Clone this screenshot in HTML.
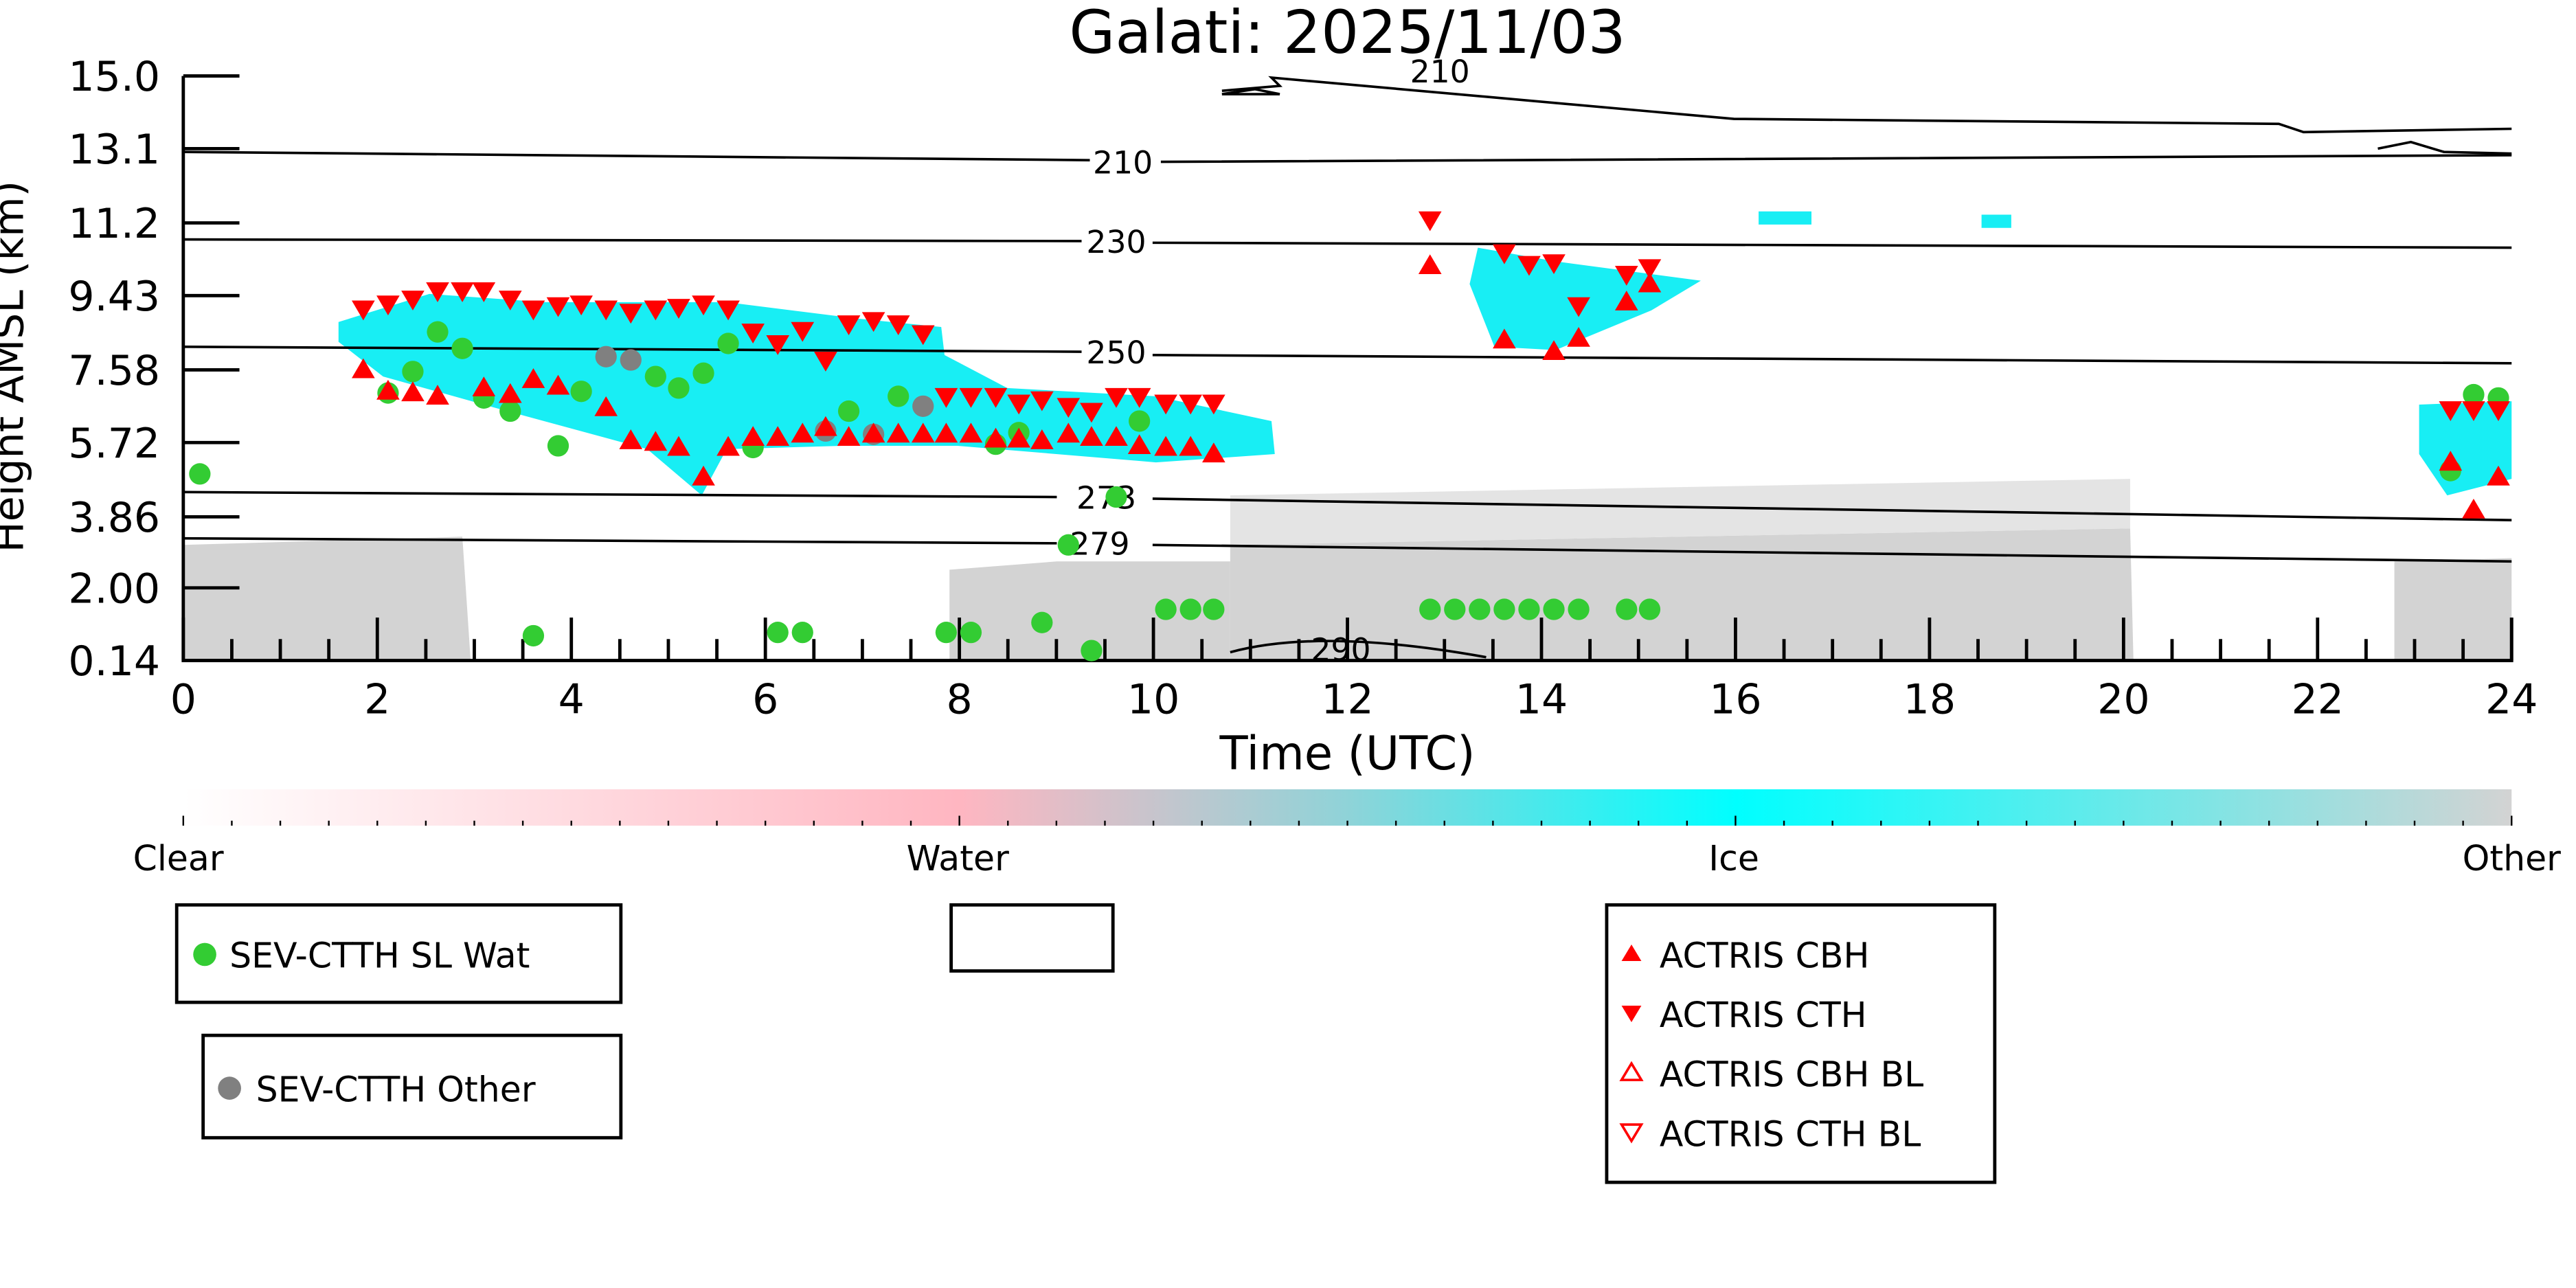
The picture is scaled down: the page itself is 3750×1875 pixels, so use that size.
<!DOCTYPE html>
<html><head><meta charset="utf-8"><style>
html,body{margin:0;padding:0;background:#fff}
svg{display:block}
text{font-family:"DejaVu Sans","Liberation Sans",sans-serif;fill:#000}
</style></head><body>
<svg id="s" width="3750" height="1875" viewBox="0 0 1560 780" xmlns="http://www.w3.org/2000/svg">
<defs>
<linearGradient id="cb" x1="0" x2="1" y1="0" y2="0">
<stop offset="0" stop-color="#ffffff"/>
<stop offset="0.333" stop-color="#ffb6c1"/>
<stop offset="0.5" stop-color="#8fd3d8"/>
<stop offset="0.667" stop-color="#00ffff"/>
<stop offset="1" stop-color="#d3d3d3"/>
</linearGradient>
</defs>
<text x="816" y="32" font-size="36" text-anchor="middle">Galati: 2025/11/03</text>
<!-- gray regions -->
<g fill="#d3d3d3">
<path d="M111,330 L280,325 L285,400 L111,400Z"/>
<path d="M575,345 L640,340 L745,340 L745,400 L575,400Z"/>
<path d="M745,330 L1290,320 L1292,400 L745,400Z"/>
<path d="M1450,340 L1521,338 L1521,400 L1450,400Z"/>
<path d="M745,300 L1290,290 L1290,320 L745,330Z" fill="#e4e4e4"/>
</g>
<!-- cyan -->
<g fill="#18eef4">
<path d="M205,195 L260,178 L330,183 L440,183 L520,193 L570,198 L572,215 L610,235 L700,240 L770,255 L772,275 L700,280 L580,270 L510,270 L440,272 L425,300 L392,272 L300,247 L232,228 L205,207Z"/>
<path d="M895,150 L940,158 L1030,170 L1000,188 L942,212 L905,210 L890,172Z"/>
<path d="M1465,245 L1521,243 L1521,290 L1482,300 L1465,275Z"/>
<path d="M1065,128 h32 v8 h-32Z"/><path d="M1200,130 h18 v8 h-18Z"/>
</g>
<!-- contours -->
<g fill="none" stroke="#000" stroke-width="1.5">
<path d="M111,92 L660,97 M703,98 L1521,94"/>
<path d="M111,145 L655,146 M698,147 L1521,150"/>
<path d="M111,210 L655,213 M698,215 L1521,220"/>
<path d="M111,298 L640,301 M698,302 L1521,315"/>
<path d="M111,326 L640,329 M698,330 L1521,340"/>
<path d="M740,55 L775,52 L770,47 L1050,72 L1380,75 L1395,80 L1521,78"/>
<path d="M740,57 L760,54 L775,57 L740,57"/>
<path d="M1440,90 L1460,86 L1480,92 L1521,93"/>
<path d="M745,395 Q800,380 900,398"/>
</g>
<g font-size="19" text-anchor="middle">
<text x="680" y="105">210</text><text x="676" y="153">230</text><text x="676" y="220">250</text>
<text x="670" y="308">273</text><text x="666" y="336">279</text><text x="812" y="400">290</text>
<text x="872" y="50">210</text>
</g>
<!-- axes -->
<g stroke="#000" stroke-width="2" fill="none">
<path d="M111,46 L111,400 L1521,400 L1521,374"/>
</g>
<g id="ticks" stroke="#000" stroke-width="2"></g>
<g font-size="25" text-anchor="end">
<text x="97" y="55">15.0</text><text x="97" y="99">13.1</text><text x="97" y="144">11.2</text>
<text x="97" y="188">9.43</text><text x="97" y="233">7.58</text><text x="97" y="277">5.72</text>
<text x="97" y="322">3.86</text><text x="97" y="365">2.00</text><text x="97" y="409">0.14</text>
</g>
<text transform="translate(14,222) rotate(-90)" font-size="25" text-anchor="middle">Height AMSL (km)</text>
<g font-size="25" text-anchor="middle" id="xl"></g>
<text x="816" y="466" font-size="28" text-anchor="middle">Time (UTC)</text>
<!-- colorbar -->
<rect x="111" y="478" width="1410" height="22" fill="url(#cb)"/>
<g id="cbt" stroke="#000" stroke-width="1"></g>
<g font-size="21" text-anchor="middle">
<text x="108" y="527">Clear</text><text x="580" y="527">Water</text><text x="1050" y="527">Ice</text><text x="1521" y="527">Other</text>
</g>
<!-- markers -->
<g id="mk"></g>
<!-- legends -->
<g fill="#fff" stroke="#000" stroke-width="2">
<rect x="107" y="548" width="269" height="59"/>
<rect x="576" y="548" width="98" height="40"/>
<rect x="123" y="627" width="253" height="62"/>
<rect x="973" y="548" width="235" height="168"/>
</g>
<circle cx="124" cy="578" r="7" fill="#33cc33"/>
<circle cx="139" cy="659" r="7" fill="#808080"/>
<g font-size="21">
<text x="139" y="586">SEV-CTTH SL Wat</text>
<text x="155" y="667">SEV-CTTH Other</text>
<text x="1005" y="586">ACTRIS CBH</text>
<text x="1005" y="622">ACTRIS CTH</text>
<text x="1005" y="658">ACTRIS CBH BL</text>
<text x="1005" y="694">ACTRIS CTH BL</text>
</g>
<path d="M988,572 l6,10 h-12Z" fill="#f00"/>
<path d="M982,609 h12 l-6,10Z" fill="#f00"/>
<path d="M988,644 l6,10 h-12Z" fill="none" stroke="#f00" stroke-width="1.5"/>
<path d="M982,681 h12 l-6,10Z" fill="none" stroke="#f00" stroke-width="1.5"/>
<script>
var NS="http://www.w3.org/2000/svg",s=function(id){return document.getElementById(id)};
function el(p,t,a,txt){var e=document.createElementNS(NS,t);for(var k in a)e.setAttribute(k,a[k]);if(txt)e.textContent=txt;s(p).appendChild(e);}
for(var i=0;i<=48;i++){var x=111+i*29.375,big=i%4==0;el("ticks","line",{x1:x,x2:x,y1:400,y2:big?374:387});if(i%4==0)el("xl","text",{x:x,y:432},String(i/2));}
[46,90,135,179,224,268,313,356,400].forEach(function(y){el("ticks","line",{x1:111,x2:145,y1:y,y2:y});});
for(var i=0;i<=48;i++){var x=111+i*29.375;el("cbt","line",{x1:x,x2:x,y1:500,y2:i%16==0?494:497});}
var g=[[121,287],[235,238],[250,225],[265,201],[280,211],[293,241],[309,249],[338,270],[352,237],[397,228],[411,235],[426,226],[441,208],[456,271],[514,249],[544,240],[603,269],[617,262],[631,377],[647,330],[676,301],[690,255],[706,369],[721,369],[735,369],[471,383],[486,383],[323,385],[573,383],[588,383],[661,394],[866,369],[881,369],[896,369],[911,369],[926,369],[941,369],[956,369],[985,369],[999,369],[1484,285],[1498,239],[1513,241]];
g.forEach(function(p){el("mk","circle",{cx:p[0]-110+110,cy:p[1],r:6.5,fill:"#33cc33"});});
[[367,216],[382,218],[500,261],[529,263],[559,246]].forEach(function(p){el("mk","circle",{cx:p[0],cy:p[1],r:6.5,fill:"#808080"});});
var up=[[220,223],[235,236],[250,237],[265,239],[293,234],[309,238],[323,229],[338,233],[367,246],[382,266],[397,267],[411,270],[426,288],[441,270],[456,264],[471,264],[486,262],[500,258],[514,264],[529,262],[544,262],[559,262],[573,262],[588,262],[603,265],[617,265],[631,266],[647,262],[661,264],[676,264],[690,269],[706,270],[721,270],[735,274],[866,160],[911,205],[941,212],[956,204],[985,182],[999,171],[1484,279],[1498,308],[1513,288]];
up.forEach(function(p){el("mk","path",{d:"M"+p[0]+","+(p[1]-6)+" l7,12 h-14Z",fill:"#f00"});});
var dn=[[220,188],[235,185],[250,182],[265,177],[280,177],[293,177],[309,182],[323,188],[338,186],[352,185],[367,188],[382,190],[397,188],[411,187],[426,185],[441,188],[456,202],[471,209],[486,201],[500,219],[514,197],[529,195],[544,197],[559,203],[573,241],[588,241],[603,241],[617,245],[631,243],[647,247],[661,250],[676,241],[690,241],[706,245],[721,245],[735,245],[866,134],[911,154],[926,161],[941,160],[956,186],[985,167],[999,163],[1484,249],[1498,249],[1513,249]];
dn.forEach(function(p){el("mk","path",{d:"M"+(p[0]-7)+","+(p[1]-6)+" h14 l-7,12Z",fill:"#f00"});});
</script>
</svg>
</body></html>
